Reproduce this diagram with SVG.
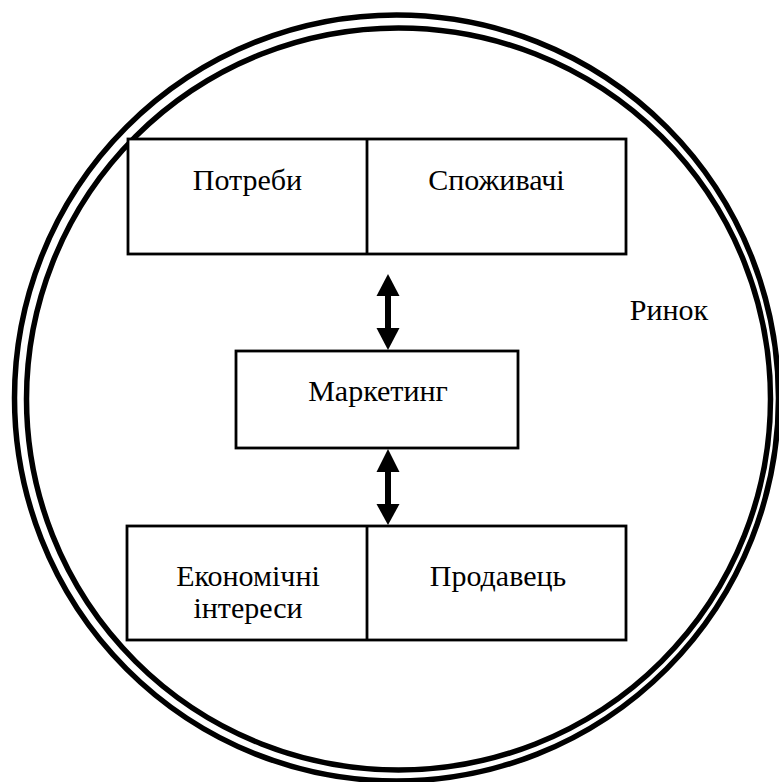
<svg xmlns="http://www.w3.org/2000/svg" width="779" height="782" viewBox="0 0 779 782">
<defs>
<style>
.ring{fill:none;stroke:#000;stroke-width:5.5}
.box{fill:#fff;stroke:#000;stroke-width:2.8}
.div{stroke:#000;stroke-width:2.8}
.t{font-family:"Liberation Serif","Times New Roman",serif;font-size:30px;fill:#000;text-anchor:middle}
.shaft{stroke:#000;stroke-width:6}
.head{fill:#000}
</style>
</defs>
<rect width="779" height="782" fill="#fff"/>
<g id="market">
<ellipse class="ring" cx="396.5" cy="398" rx="382" ry="383"/>
<ellipse class="ring" cx="398.5" cy="399" rx="372" ry="371"/>
<text class="t" x="669" y="320">Ринок</text>
</g>
<g id="top-box">
<rect class="box" x="128" y="139" width="498" height="115"/>
<line class="div" x1="367" y1="139" x2="367" y2="254"/>
<text class="t" x="247.5" y="190">Потреби</text>
<text class="t" x="496.5" y="190">Споживачі</text>
</g>
<g id="marketing">
<rect class="box" x="236" y="351" width="282" height="97"/>
<text class="t" x="378" y="401">Маркетинг</text>
</g>
<g id="bottom-box">
<rect class="box" x="127" y="526" width="499" height="114"/>
<line class="div" x1="367" y1="526" x2="367" y2="640"/>
<text class="t" x="248" y="586">Економічні</text>
<text class="t" x="248" y="618">інтереси</text>
<text class="t" x="498" y="586">Продавець</text>
</g>
<g id="connectors">
<line class="shaft" x1="388" y1="292" x2="388" y2="332"/>
<polygon class="head" points="388,274 399.5,296 376.5,296"/>
<polygon class="head" points="388,350 399.5,328 376.5,328"/>
<line class="shaft" x1="388" y1="468" x2="388" y2="508"/>
<polygon class="head" points="388,449 399.5,472 376.5,472"/>
<polygon class="head" points="388,525 399.5,504 376.5,504"/>
</g>
</svg>
